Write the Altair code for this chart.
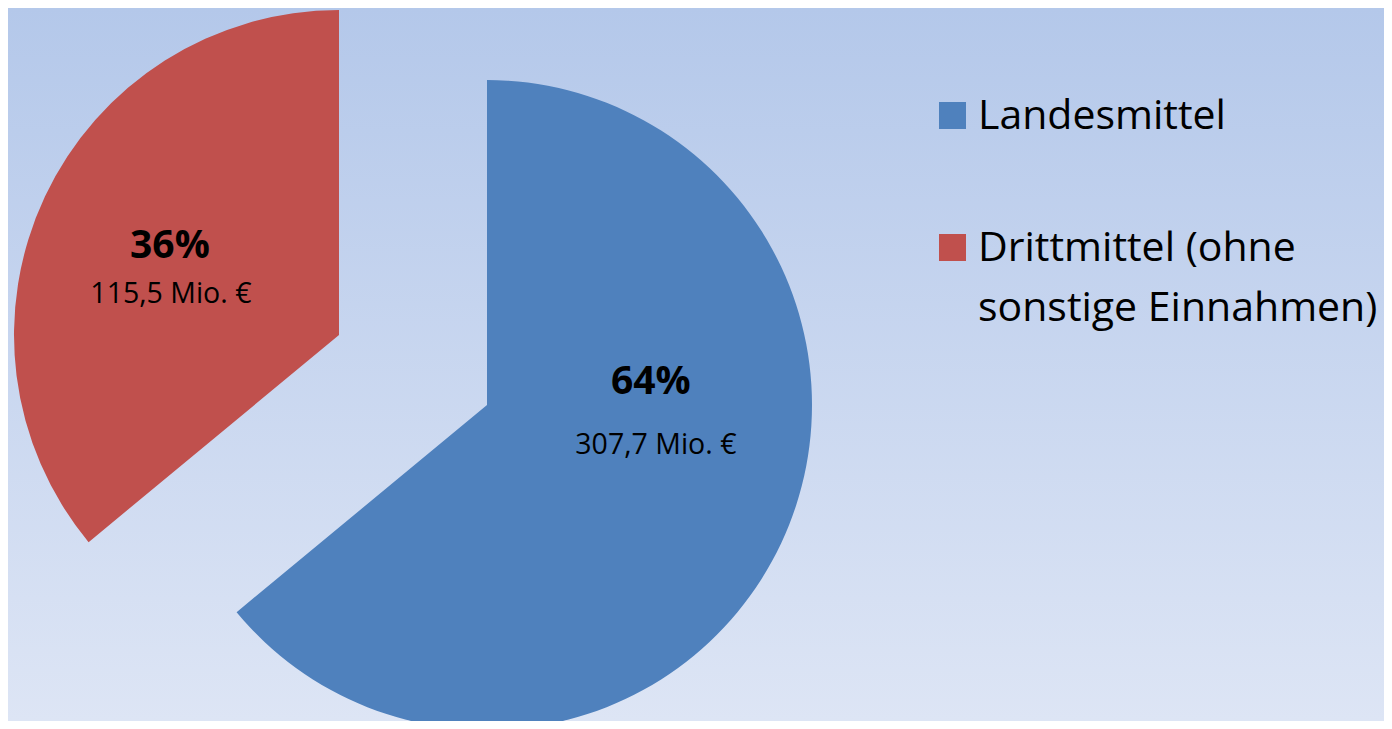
import altair as alt
import pandas as pd

# ---- data ----
categories = ["Landesmittel", "Drittmittel (ohne sonstige Einnahmen)"]
legend_labels = ["Landesmittel", "Drittmittel (ohne\nsonstige Einnahmen)"]
percent = [64, 36]
amounts = [307.7, 115.5]
colors = ["#4f81bd", "#c0504d"]

amount_labels = [f"{a:.1f}".replace(".", ",") + " Mio. €" for a in amounts]

df = pd.DataFrame({
    "order": list(range(len(categories))),
    "category": categories,
    "legend_label": legend_labels,
    "percent": percent,
    "amount_label": amount_labels,
})

W, H = 1376, 713
R = 325
FONT = "Open Sans"

color_enc = alt.Color("category:N", scale=alt.Scale(domain=categories, range=colors), legend=None)
theta_scale = alt.Scale(domain=[0, 100])

base = (
    alt.Chart(df)
    .transform_window(cum="sum(percent)", sort=[alt.SortField("order")], frame=[None, 0])
    .transform_calculate(
        start="datum.cum - datum.percent",
        mid="datum.cum - datum.percent / 2",
        pct_label="datum.percent + '%'",
    )
)

background = alt.Chart(alt.Data(values=[{}])).mark_rect(
    color=alt.LinearGradient(
        gradient="linear",
        stops=[alt.GradientStop(color="#b4c8ea", offset=0),
               alt.GradientStop(color="#dde5f5", offset=1)],
        x1=0, x2=0, y1=0, y2=1,
    )
).encode(x=alt.value(0), x2=alt.value(W), y=alt.value(0), y2=alt.value(H))

# slice centres (exploded pie) and label offsets
centres = {
    "Landesmittel": (479, 397, -88, -28, 1, 6),
    "Drittmittel (ohne sonstige Einnahmen)": (331, 327, 3, 48, 1, 2),
}

layers = [background]
for cat in categories:
    cx, cy, dy1, dy2, dx1, dx2 = centres[cat]
    sub = base.transform_filter(alt.datum.category == cat)
    arc = sub.mark_arc(radius=R).encode(
        theta=alt.Theta("start:Q", scale=theta_scale),
        theta2="cum:Q",
        color=color_enc,
        x=alt.value(cx), y=alt.value(cy),
    )
    r_lab = 180 if cat == "Landesmittel" else 188
    pct = sub.mark_text(
        radius=r_lab, font=FONT, fontSize=39, fontWeight="bold",
        align="center", baseline="alphabetic", dx=dx1, dy=dy1, color="black",
    ).encode(
        theta=alt.Theta("mid:Q", scale=theta_scale),
        text="pct_label:N",
        x=alt.value(cx), y=alt.value(cy),
    )
    amt = sub.mark_text(
        radius=r_lab, font=FONT, fontSize=28.5,
        align="center", baseline="alphabetic", dx=dx2, dy=dy2, color="black",
    ).encode(
        theta=alt.Theta("mid:Q", scale=theta_scale),
        text="amount_label:N",
        x=alt.value(cx), y=alt.value(cy),
    )
    layers += [arc, pct, amt]

# legend drawn with its own point scale
leg_y = alt.Y("category:N", axis=None,
              scale=alt.Scale(type="point", domain=categories, range=[107.5, 239.5], padding=0))
leg_sq = alt.Chart(df).mark_square(size=27 * 27, opacity=1).encode(
    x=alt.value(944.5), y=leg_y, color=color_enc,
)
leg_tx = alt.Chart(df).mark_text(
    font=FONT, fontSize=41, align="left", baseline="alphabetic",
    lineBreak="\n", lineHeight=60, dy=13.5, color="black",
).encode(x=alt.value(970), y=leg_y, text="legend_label:N")
layers += [leg_sq, leg_tx]

chart = (
    alt.layer(*layers)
    .properties(width=W, height=H, padding=0, autosize=alt.AutoSizeParams(type="none"),
                background="#b4c8ea")
    .configure_view(strokeWidth=0)
)

chart.save("out.html", embed_options={"renderer": "svg", "actions": False})
